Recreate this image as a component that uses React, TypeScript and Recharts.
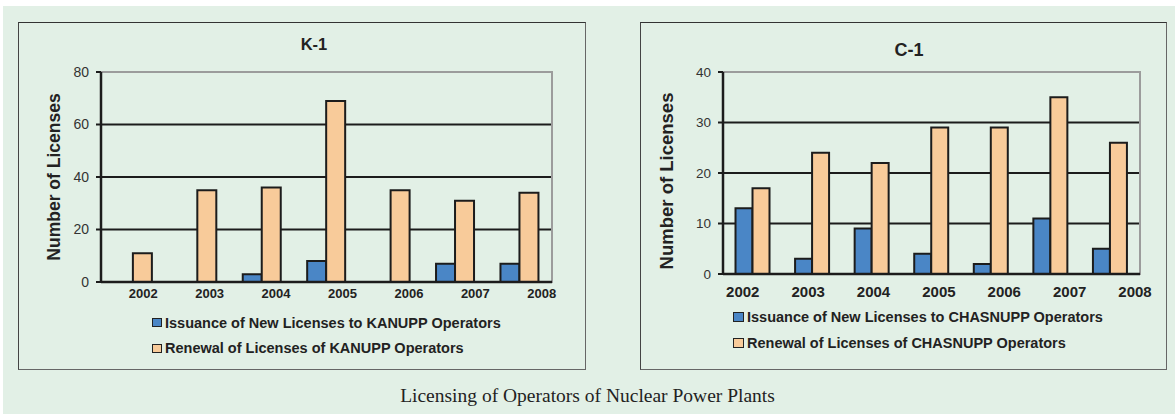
import React from "react";
import { BarChart, Bar, XAxis, YAxis, CartesianGrid, Legend, ReferenceArea } from "recharts";

// licences per year
const years = ["2002", "2003", "2004", "2005", "2006", "2007", "2008"];
const kanuppNew = [0, 0, 3, 8, 0, 7, 7];
const kanuppRenewal = [11, 35, 36, 69, 35, 31, 34];
const chasnuppNew = [13, 3, 9, 4, 2, 11, 5];
const chasnuppRenewal = [17, 24, 22, 29, 29, 35, 26];
const kanuppTicks = [0, 20, 40, 60, 80];
const chasnuppTicks = [0, 10, 20, 30, 40];

const FONT = "Arial, 'Liberation Sans', sans-serif";
const BLUE = "#4a86c6";
const PEACH = "#f8cb9a";
const INK = "#1c1c1c";

function makeRows(newVals: number[], renewVals: number[]) {
  return years.map((y, i) => ({ year: y, issued: newVals[i], renewed: renewVals[i] }));
}

interface PanelProps {
  left: number;
  width: number;
  title: string;
  titleSize: number;
  titleX: number;
  titleY: number;
  rows: { year: string; issued: number; renewed: number }[];
  ticks: number[];
  plant: string;
  margin: { top: number; right: number; left: number; bottom: number };
  gap: string;
  yFont: number;
  xFont: number;
  xDy: number;
  shiftStart: number;
  shiftStep: number;
  yLabelSize: number;
  yLabelDx: number;
  yLabelDy: number;
  legendLeft: number;
  legendTop: number;
  legendFont: number;
  legendRow: number;
  swatch: [number, number];
}

function Panel(p: PanelProps) {
  const top = 22;
  const height = 348;
  const max = p.ticks[p.ticks.length - 1];

  const yearTick = (t: any) => (
    <text
      x={t.x + p.shiftStart + p.shiftStep * t.index}
      y={t.y + p.xDy}
      textAnchor="middle"
      fontSize={p.xFont}
      fontWeight="bold"
      fontFamily={FONT}
      fill="#222"
    >
      {t.payload.value}
    </text>
  );

  const yLabel = (l: any) => {
    const vb = l.viewBox;
    const cx = vb.x + p.yLabelDx;
    const cy = vb.y + vb.height / 2 + p.yLabelDy;
    return (
      <text
        x={cx}
        y={cy}
        transform={`rotate(-90 ${cx} ${cy})`}
        textAnchor="middle"
        dominantBaseline="central"
        fontSize={p.yLabelSize}
        fontWeight="bold"
        fontFamily={FONT}
        fill="#222"
      >
        Number of Licenses
      </text>
    );
  };

  const legendContent = (lp: any) => (
    <div style={{ fontFamily: FONT }}>
      {(lp.payload || []).map((it: any) => (
        <div
          key={it.value}
          style={{ display: "flex", alignItems: "center", height: p.legendRow, whiteSpace: "nowrap" }}
        >
          <span
            style={{
              display: "inline-block",
              width: p.swatch[0],
              height: p.swatch[1],
              background: it.color,
              border: "1.5px solid #222",
              boxSizing: "border-box",
            }}
          />
          <span style={{ marginLeft: 3, fontSize: p.legendFont, fontWeight: "bold", color: "#222" }}>
            {it.value}
          </span>
        </div>
      ))}
    </div>
  );

  return (
    <div style={{ position: "absolute", left: p.left, top, width: p.width, height }}>
      <div
        style={{
          position: "absolute",
          inset: 0,
          borderTop: "1.5px solid #333",
          borderLeft: "1.5px solid #444",
          borderRight: "1.5px solid #666",
          borderBottom: "1.5px solid #666",
        }}
      />
      <div
        style={{
          position: "absolute",
          left: p.titleX,
          top: p.titleY,
          transform: "translate(-50%, -50%)",
          fontFamily: FONT,
          fontWeight: "bold",
          fontSize: p.titleSize,
          color: "#222",
        }}
      >
        {p.title}
      </div>
      <div style={{ position: "absolute", left: 0, top: 0 }}>
        <BarChart
          width={p.width}
          height={height}
          data={p.rows}
          margin={p.margin}
          barCategoryGap={p.gap}
          barGap={0}
        >
          <CartesianGrid vertical={false} horizontalValues={p.ticks.slice(1, -1)} stroke={INK} strokeWidth={2} />
          <ReferenceArea y1={0} y2={max} fill="none" stroke="#9c9c9c" strokeWidth={2} />
          <XAxis
            dataKey="year"
            tickLine={false}
            tickSize={0}
            tickMargin={0}
            axisLine={{ stroke: INK, strokeWidth: 2.5 }}
            tick={yearTick}
            height={30}
            interval={0}
          />
          <YAxis
            domain={[0, max]}
            ticks={p.ticks}
            width={40}
            axisLine={{ stroke: INK, strokeWidth: 2.5 }}
            tickLine={{ stroke: INK, strokeWidth: 2 }}
            tickSize={5}
            tickMargin={7}
            tick={{ fontSize: p.yFont, fill: "#333", fontFamily: FONT }}
            label={yLabel}
          />
          <Legend
            layout="vertical"
            align="center"
            verticalAlign="middle"
            content={legendContent}
            wrapperStyle={{ left: p.legendLeft, top: p.legendTop, width: "auto" }}
          />
          <Bar
            dataKey="issued"
            name={`Issuance of New Licenses to ${p.plant} Operators`}
            fill={BLUE}
            stroke={INK}
            strokeWidth={2}
            isAnimationActive={false}
          />
          <Bar
            dataKey="renewed"
            name={`Renewal of Licenses of ${p.plant} Operators`}
            fill={PEACH}
            stroke={INK}
            strokeWidth={2}
            isAnimationActive={false}
          />
        </BarChart>
      </div>
    </div>
  );
}

export default function App() {
  return (
    <div
      style={{
        position: "absolute",
        left: 0,
        top: 0,
        width: 1175,
        height: 414,
        background: "#fff",
        overflow: "hidden",
      }}
    >
      <div style={{ position: "absolute", left: 3, top: 6, right: 0, bottom: 0, background: "#e2f0e6" }} />
      <Panel
        left={18}
        width={568}
        title="K-1"
        titleSize={16.5}
        titleX={296}
        titleY={22}
        rows={makeRows(kanuppNew, kanuppRenewal)}
        ticks={kanuppTicks}
        plant="KANUPP"
        margin={{ top: 50, right: 34, left: 43, bottom: 58 }}
        gap="20%"
        yFont={14}
        xFont={13}
        xDy={15.5}
        shiftStart={10}
        shiftStep={2}
        yLabelSize={17.5}
        yLabelDx={-7}
        yLabelDy={0}
        legendLeft={134}
        legendTop={288}
        legendFont={14.5}
        legendRow={25.5}
        swatch={[10, 9]}
      />
      <Panel
        left={640}
        width={527}
        title="C-1"
        titleSize={18}
        titleX={269}
        titleY={28}
        rows={makeRows(chasnuppNew, chasnuppRenewal)}
        ticks={chasnuppTicks}
        plant="CHASNUPP"
        margin={{ top: 50, right: 27, left: 43, bottom: 66 }}
        gap="21%"
        yFont={13.5}
        xFont={15}
        xDy={22.5}
        shiftStart={-10}
        shiftStep={5.8}
        yLabelSize={18.5}
        yLabelDx={-17}
        yLabelDy={8}
        legendLeft={93}
        legendTop={282}
        legendFont={14.5}
        legendRow={26}
        swatch={[11, 10]}
      />
      <div
        style={{
          position: "absolute",
          left: 0,
          width: 1175,
          top: 396,
          transform: "translateY(-50%)",
          textAlign: "center",
          fontFamily: "'Times New Roman', 'Liberation Serif', serif",
          fontSize: 19.5,
          color: "#222",
        }}
      >
        Licensing of Operators of Nuclear Power Plants
      </div>
    </div>
  );
}
